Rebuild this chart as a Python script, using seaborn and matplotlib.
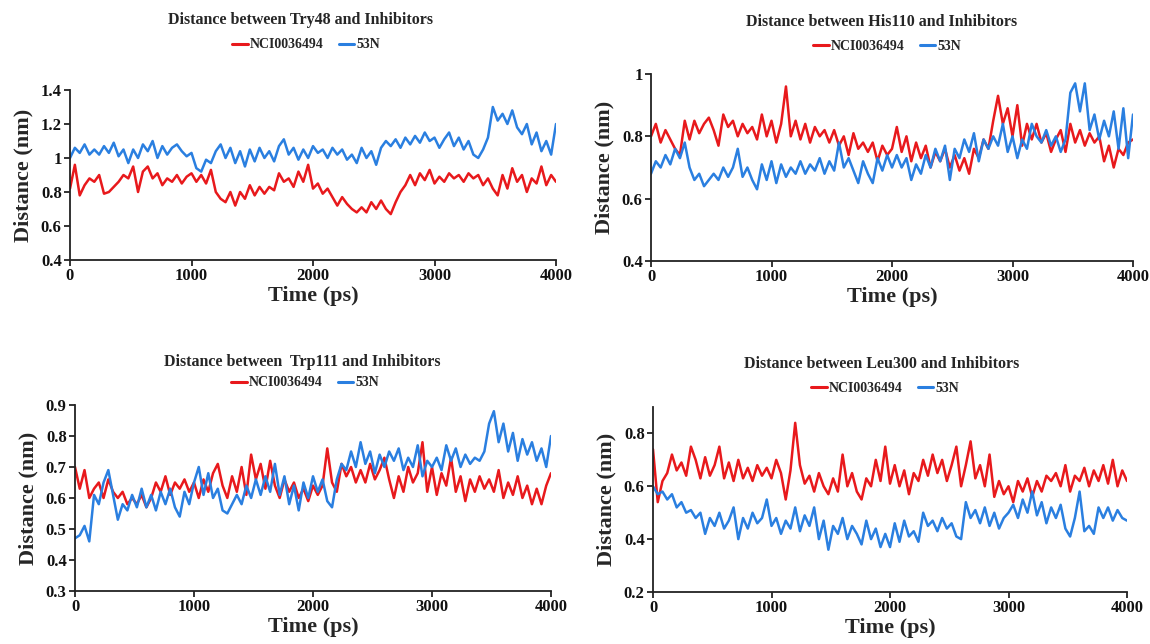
import numpy as np
import pandas as pd
import matplotlib
matplotlib.use("Agg")
import matplotlib.pyplot as plt
import seaborn as sns
from matplotlib.lines import Line2D

# ---------------- data ----------------
series_names = ["NCI0036494", "53N"]
titles = ["Distance between Try48 and Inhibitors",
          "Distance between His110 and Inhibitors",
          "Distance between  Trp111 and Inhibitors",
          "Distance between Leu300 and Inhibitors"]
x_ticks = [0, 1000, 2000, 3000, 4000]

try48_nci = [0.82, 0.96, 0.78, 0.84, 0.88, 0.86, 0.90, 0.79, 0.80, 0.83,
             0.86, 0.90, 0.88, 0.95, 0.80, 0.92, 0.95, 0.88, 0.91, 0.84,
             0.88, 0.86, 0.90, 0.85, 0.89, 0.91, 0.86, 0.90, 0.85, 0.93,
             0.80, 0.76, 0.74, 0.80, 0.72, 0.80, 0.76, 0.84, 0.78, 0.83,
             0.79, 0.83, 0.81, 0.91, 0.86, 0.88, 0.83, 0.92, 0.86, 0.96,
             0.82, 0.85, 0.79, 0.82, 0.77, 0.72, 0.77, 0.73, 0.70, 0.68,
             0.71, 0.68, 0.74, 0.70, 0.75, 0.70, 0.67, 0.74, 0.80, 0.84,
             0.90, 0.84, 0.91, 0.87, 0.93, 0.85, 0.89, 0.86, 0.91, 0.88,
             0.90, 0.86, 0.91, 0.88, 0.90, 0.84, 0.88, 0.82, 0.78, 0.90,
             0.82, 0.94, 0.86, 0.90, 0.80, 0.88, 0.85, 0.95, 0.84, 0.90,
             0.86]
try48_53n = [1.00, 1.06, 1.03, 1.08, 1.02, 1.05, 1.02, 1.07, 1.03, 1.09,
             1.01, 1.05, 0.97, 1.05, 1.00, 1.08, 1.04, 1.10, 1.00, 1.07,
             1.02, 1.06, 1.08, 1.04, 1.01, 1.03, 0.94, 0.92, 0.99, 0.97,
             1.04, 1.08, 1.00, 1.06, 0.97, 1.04, 0.95, 1.05, 0.98, 1.06,
             1.00, 1.04, 0.98, 1.07, 1.11, 1.02, 1.06, 0.99, 1.05, 1.00,
             1.07, 1.03, 1.05, 1.00, 1.06, 1.02, 1.05, 0.99, 1.02, 0.97,
             1.06, 1.00, 1.04, 0.96, 1.06, 1.10, 1.07, 1.11, 1.06, 1.12,
             1.08, 1.13, 1.09, 1.15, 1.10, 1.12, 1.06, 1.11, 1.15, 1.07,
             1.12, 1.05, 1.10, 1.02, 1.00, 1.05, 1.12, 1.30, 1.22, 1.26,
             1.20, 1.28, 1.18, 1.14, 1.20, 1.08, 1.15, 1.04, 1.10, 1.02,
             1.20]

his110_nci = [0.80, 0.84, 0.78, 0.82, 0.79, 0.76, 0.74, 0.85, 0.79, 0.85,
              0.81, 0.84, 0.86, 0.82, 0.77, 0.87, 0.83, 0.85, 0.80, 0.84,
              0.81, 0.83, 0.79, 0.87, 0.80, 0.85, 0.78, 0.84, 0.96, 0.80,
              0.85, 0.79, 0.84, 0.78, 0.83, 0.80, 0.82, 0.78, 0.82, 0.77,
              0.80, 0.74, 0.81, 0.76, 0.78, 0.75, 0.78, 0.72, 0.77, 0.74,
              0.76, 0.83, 0.75, 0.80, 0.72, 0.78, 0.73, 0.77, 0.70, 0.75,
              0.72, 0.76, 0.70, 0.74, 0.69, 0.73, 0.68, 0.76, 0.73, 0.79,
              0.76, 0.85, 0.93, 0.84, 0.89, 0.80, 0.90, 0.77, 0.84, 0.79,
              0.84, 0.78, 0.81, 0.75, 0.79, 0.82, 0.75, 0.84, 0.78, 0.82,
              0.77, 0.81, 0.78, 0.80, 0.72, 0.77, 0.70, 0.76, 0.74, 0.78,
              0.79]
his110_53n = [0.68, 0.72, 0.70, 0.74, 0.71, 0.76, 0.73, 0.78, 0.70, 0.66,
              0.68, 0.64, 0.66, 0.68, 0.66, 0.70, 0.67, 0.70, 0.76, 0.67,
              0.70, 0.66, 0.63, 0.71, 0.66, 0.72, 0.65, 0.71, 0.67, 0.70,
              0.68, 0.72, 0.68, 0.71, 0.69, 0.73, 0.68, 0.72, 0.69, 0.78,
              0.70, 0.73, 0.69, 0.65, 0.72, 0.68, 0.65, 0.73, 0.69, 0.74,
              0.70, 0.74, 0.70, 0.73, 0.66, 0.71, 0.68, 0.74, 0.70, 0.76,
              0.72, 0.77, 0.66, 0.76, 0.73, 0.79, 0.75, 0.81, 0.72, 0.79,
              0.76, 0.80, 0.77, 0.84, 0.75, 0.80, 0.73, 0.79, 0.76, 0.84,
              0.80, 0.78, 0.82, 0.77, 0.80, 0.75, 0.79, 0.94, 0.97, 0.88,
              0.97, 0.82, 0.87, 0.79, 0.85, 0.80, 0.88, 0.76, 0.89, 0.73,
              0.87]

trp111_nci = [0.70, 0.63, 0.69, 0.60, 0.63, 0.65, 0.60, 0.66, 0.62, 0.60,
              0.62, 0.58, 0.60, 0.58, 0.61, 0.57, 0.60, 0.65, 0.62, 0.67,
              0.61, 0.65, 0.63, 0.66, 0.62, 0.65, 0.60, 0.66, 0.62, 0.68,
              0.71, 0.64, 0.60, 0.67, 0.62, 0.70, 0.61, 0.74, 0.66, 0.71,
              0.63, 0.72, 0.64, 0.60, 0.66, 0.62, 0.65, 0.60, 0.63, 0.59,
              0.64, 0.61, 0.64, 0.76, 0.65, 0.62, 0.71, 0.67, 0.70, 0.65,
              0.69, 0.65, 0.71, 0.66, 0.69, 0.73, 0.66, 0.60, 0.67, 0.62,
              0.70, 0.65, 0.68, 0.78, 0.62, 0.70, 0.61, 0.68, 0.64, 0.73,
              0.62, 0.67, 0.59, 0.66, 0.62, 0.67, 0.63, 0.66, 0.62, 0.69,
              0.60, 0.65, 0.61, 0.67, 0.60, 0.64, 0.58, 0.63, 0.58, 0.64,
              0.68]
trp111_53n = [0.47, 0.48, 0.51, 0.46, 0.61, 0.58, 0.65, 0.69, 0.61, 0.53,
              0.58, 0.56, 0.61, 0.57, 0.63, 0.57, 0.61, 0.56, 0.62, 0.58,
              0.63, 0.57, 0.54, 0.62, 0.58, 0.65, 0.70, 0.61, 0.68, 0.60,
              0.63, 0.56, 0.55, 0.58, 0.61, 0.58, 0.64, 0.60, 0.66, 0.61,
              0.67, 0.62, 0.71, 0.61, 0.67, 0.58, 0.64, 0.56, 0.65, 0.60,
              0.67, 0.62, 0.66, 0.59, 0.57, 0.66, 0.71, 0.69, 0.75, 0.70,
              0.78, 0.71, 0.75, 0.68, 0.74, 0.70, 0.75, 0.72, 0.76, 0.69,
              0.73, 0.70, 0.77, 0.67, 0.72, 0.70, 0.73, 0.69, 0.77, 0.72,
              0.76, 0.70, 0.74, 0.71, 0.73, 0.72, 0.75, 0.84, 0.88, 0.78,
              0.84, 0.75, 0.81, 0.72, 0.79, 0.74, 0.78, 0.72, 0.76, 0.70,
              0.80]

leu300_nci = [0.74, 0.54, 0.62, 0.65, 0.72, 0.66, 0.69, 0.64, 0.75, 0.70,
              0.63, 0.71, 0.64, 0.68, 0.75, 0.63, 0.69, 0.62, 0.70, 0.63,
              0.67, 0.62, 0.68, 0.64, 0.67, 0.63, 0.70, 0.65, 0.55, 0.66,
              0.84, 0.68, 0.61, 0.64, 0.58, 0.65, 0.60, 0.57, 0.63, 0.58,
              0.72, 0.60, 0.65, 0.58, 0.55, 0.63, 0.60, 0.70, 0.62, 0.75,
              0.61, 0.68, 0.60, 0.66, 0.57, 0.65, 0.62, 0.70, 0.64, 0.72,
              0.65, 0.70, 0.62, 0.68, 0.75, 0.60, 0.68, 0.77, 0.63, 0.68,
              0.60, 0.72, 0.56, 0.62, 0.57, 0.60, 0.54, 0.62, 0.58, 0.63,
              0.56, 0.62, 0.58, 0.64, 0.62, 0.65, 0.60, 0.68, 0.58, 0.64,
              0.62, 0.67, 0.60, 0.66, 0.62, 0.68, 0.61, 0.70, 0.60, 0.66,
              0.62]
leu300_53n = [0.60, 0.57, 0.58, 0.55, 0.57, 0.52, 0.54, 0.50, 0.51, 0.48,
              0.50, 0.42, 0.48, 0.45, 0.50, 0.44, 0.47, 0.52, 0.40, 0.48,
              0.44, 0.50, 0.46, 0.48, 0.55, 0.45, 0.48, 0.42, 0.47, 0.44,
              0.52, 0.43, 0.49, 0.45, 0.52, 0.40, 0.47, 0.36, 0.45, 0.42,
              0.48, 0.40, 0.45, 0.42, 0.38, 0.47, 0.40, 0.44, 0.37, 0.42,
              0.37, 0.46, 0.39, 0.47, 0.41, 0.43, 0.39, 0.50, 0.45, 0.47,
              0.43, 0.48, 0.44, 0.46, 0.41, 0.40, 0.54, 0.48, 0.51, 0.46,
              0.52, 0.45, 0.50, 0.44, 0.48, 0.50, 0.53, 0.48, 0.55, 0.50,
              0.58, 0.49, 0.54, 0.46, 0.52, 0.48, 0.53, 0.44, 0.41, 0.48,
              0.58, 0.43, 0.45, 0.42, 0.52, 0.48, 0.52, 0.47, 0.51, 0.48,
              0.47]

panel_series = [(try48_nci, try48_53n), (his110_nci, his110_53n),
                (trp111_nci, trp111_53n), (leu300_nci, leu300_53n)]
y_limits = [(0.4, 1.4), (0.4, 1.0), (0.3, 0.9), (0.2, 0.9)]
y_ticks = [[0.4, 0.6, 0.8, 1.0, 1.2, 1.4], [0.4, 0.6, 0.8, 1.0],
           [0.3, 0.4, 0.5, 0.6, 0.7, 0.8, 0.9], [0.2, 0.4, 0.6, 0.8]]
y_ticklabels = [["0.4", "0.6", "0.8", "1", "1.2", "1.4"], ["0.4", "0.6", "0.8", "1"],
                ["0.3", "0.4", "0.5", "0.6", "0.7", "0.8", "0.9"], ["0.2", "0.4", "0.6", "0.8"]]

# ---------------- styling ----------------
sns.set_style("ticks")
plt.rcParams["font.family"] = ["Liberation Serif", "DejaVu Serif"]
plt.rcParams["font.weight"] = "bold"
colors = {"NCI0036494": "#E8191C", "53N": "#2A7FE0"}

W, H = 1150, 644
fig = plt.figure(figsize=(W / 100, H / 100), dpi=100)

# axes boxes in pixels: left, right, top, bottom
boxes = [(70, 556, 90, 260), (651, 1133, 74, 261), (75, 551, 405, 591), (653, 1127, 407, 592)]
title_pos = [(301, 20), (882, 22), (302, 362), (882, 364)]
legend_pos = [(306, 45), (887, 46), (305, 383), (885, 388)]

for i, (l, r, t, b) in enumerate(boxes):
    ax = fig.add_axes([l / W, 1 - b / H, (r - l) / W, (b - t) / H])
    nci, n53 = panel_series[i]
    df = pd.concat([
        pd.DataFrame({"Time": np.linspace(0, 4000, len(nci)), "Distance": nci, "Series": series_names[0]}),
        pd.DataFrame({"Time": np.linspace(0, 4000, len(n53)), "Distance": n53, "Series": series_names[1]}),
    ], ignore_index=True)
    sns.lineplot(data=df, x="Time", y="Distance", hue="Series", hue_order=series_names,
                 palette=colors, ax=ax, legend=False, linewidth=1.8, estimator=None)
    ax.set_xlim(0, 4000)
    ax.set_ylim(*y_limits[i])
    ax.set_xticks(x_ticks)
    ax.set_xticklabels([str(v) for v in x_ticks], fontsize=12, fontweight="bold")
    ax.set_yticks(y_ticks[i])
    ax.set_yticklabels(y_ticklabels[i], fontsize=12, fontweight="bold")
    ax.set_xlabel("Time (ps)", fontsize=16, fontweight="bold", labelpad=1)
    ax.set_ylabel("Distance (nm)", fontsize=16, fontweight="bold", labelpad=5)
    for s in ["top", "right"]:
        ax.spines[s].set_visible(False)
    for s in ["left", "bottom"]:
        ax.spines[s].set_linewidth(1.3)
        ax.spines[s].set_color("#222222")
    ax.tick_params(axis="both", direction="out", length=4, width=1.2, pad=2, colors="#111111")

    tx, ty = title_pos[i]
    fig.text(tx / W, 1 - ty / H, titles[i], ha="center", va="center",
             fontsize=11.5, fontweight="bold")
    handles = [Line2D([0], [0], color=colors[n], lw=2.2) for n in series_names]
    lx, ly = legend_pos[i]
    fig.legend(handles, series_names, loc="center", bbox_to_anchor=(lx / W, 1 - ly / H),
               ncol=2, frameon=False, handlelength=1.1, handletextpad=0.15, columnspacing=1.1,
               prop={"size": 10, "weight": "bold"})

fig.savefig("out.png", dpi=100)
